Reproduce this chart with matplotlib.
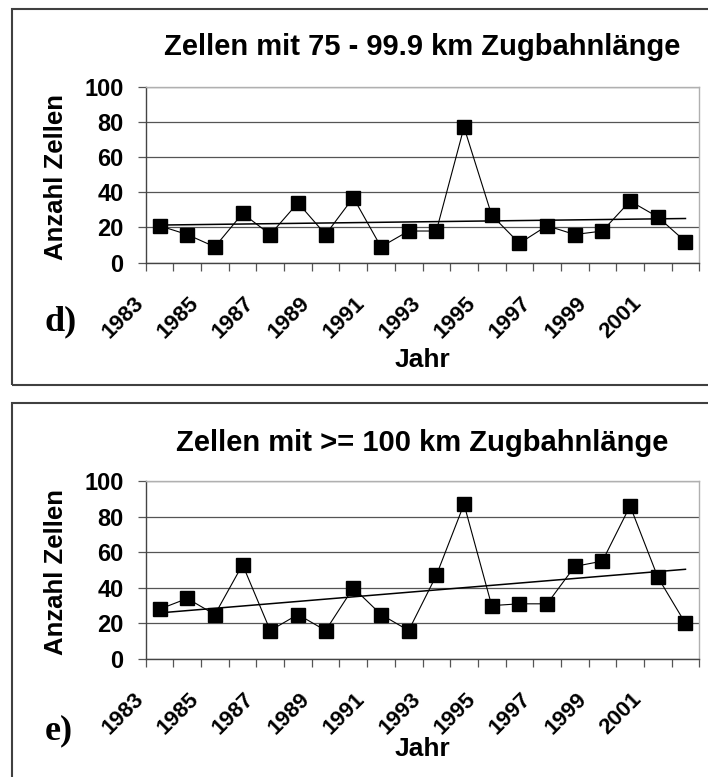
import numpy as np
import matplotlib.pyplot as plt
from matplotlib.patches import Rectangle
from matplotlib.transforms import ScaledTranslation

# Jahre und Anzahl Zellen
jahre = list(range(1983, 2003))
zellen_75_100 = [21, 16, 9, 28, 16, 34, 16, 37, 9, 18, 18, 77, 27, 11, 21, 16, 18, 35, 26, 12]
zellen_100 = [28, 34, 25, 53, 16, 25, 16, 40, 25, 16, 47, 87, 30, 31, 31, 52, 55, 86, 46, 20]
titel = ['Zellen mit 75 - 99.9 km Zugbahnlänge', 'Zellen mit >= 100 km Zugbahnlänge']
buchstaben = ['d)', 'e)']
yticks = [0, 20, 40, 60, 80, 100]

W, H = 708, 777
fig = plt.figure(figsize=(W / 100, H / 100), dpi=100)
plt.rcParams['font.family'] = ['Liberation Sans', 'DejaVu Sans']

def fx(px):
    return px / W

def fy(py):
    return 1 - py / H

# pixel layout: (axes top, axes bottom, box top, box bottom, title y, jahr y, letter y)
layout = [
    (86.7, 262.7, 9, 385, 47, 360, 322),
    (481, 659, 403, 790, 443, 749, 731),
]

dx_lab = ScaledTranslation(-0.19, -0.37, fig.dpi_scale_trans)

for werte, t, b, (top, bot, btop, bbot, ty, jy, ly) in zip(
        [zellen_75_100, zellen_100], titel, buchstaben, layout):
    # Rahmen um das Diagramm
    fig.add_artist(Rectangle((fx(12), fy(bbot)), 1.0, (bbot - btop) / H,
                             transform=fig.transFigure, fill=False,
                             edgecolor='#404040', linewidth=1.5))
    ax = fig.add_axes([fx(145.7), fy(bot), fx(553.6), (bot - top) / H])
    x = np.arange(len(jahre))
    ax.plot(x, werte, color='black', linewidth=0.8, marker='s',
            markersize=9.5, markerfacecolor='black', markeredgecolor='black', zorder=3)
    k, d = np.polyfit(x, werte, 1)
    ax.plot(x, k * x + d, color='black', linewidth=1.1, zorder=2)

    ax.set_xlim(-0.5, len(jahre) - 0.5)
    ax.set_ylim(0, 100)
    ax.set_yticks(yticks)
    ax.set_yticklabels([str(v) for v in yticks], fontsize=17, fontweight='bold')
    ax.yaxis.grid(True, color='#555555', linewidth=0.9)
    ax.set_axisbelow(True)
    ax.tick_params(axis='y', length=6, width=0.9, color='#555555', pad=10)

    ax.set_xticks(np.arange(-0.5, len(jahre), 1.0))
    ax.set_xticklabels([])
    ax.tick_params(axis='x', which='major', length=6, width=0.9, color='#555555')
    ax.set_xticks(x[::2], [str(j) for j in jahre[::2]], minor=True)
    ax.tick_params(axis='x', which='minor', length=0, pad=0)
    for lab in ax.get_xticklabels(minor=True):
        lab.set_rotation(45)
        lab.set_ha('right')
        lab.set_va('center')
        lab.set_rotation_mode('anchor')
        lab.set_fontsize(16)
        lab.set_fontweight('bold')
        lab.set_transform(lab.get_transform() + dx_lab)

    for s in ['left', 'bottom']:
        ax.spines[s].set_color('#444444')
        ax.spines[s].set_linewidth(1.0)
    for s in ['top', 'right']:
        ax.spines[s].set_color('#b0b0b0')
        ax.spines[s].set_linewidth(1.0)

    fig.text(fx(422), fy(ty), t, ha='center', va='center', fontsize=21, fontweight='bold')
    fig.text(fx(422), fy(jy), 'Jahr', ha='center', va='center', fontsize=19, fontweight='bold')
    fig.text(fx(56), fy((top + bot) / 2 + 2), 'Anzahl Zellen', ha='center', va='center',
             rotation=90, fontsize=18.5, fontweight='bold')
    fig.text(fx(45), fy(ly), b, ha='left', va='center', fontsize=26, fontweight='bold',
             family='Liberation Serif')

fig.savefig('out.png', dpi=100)
